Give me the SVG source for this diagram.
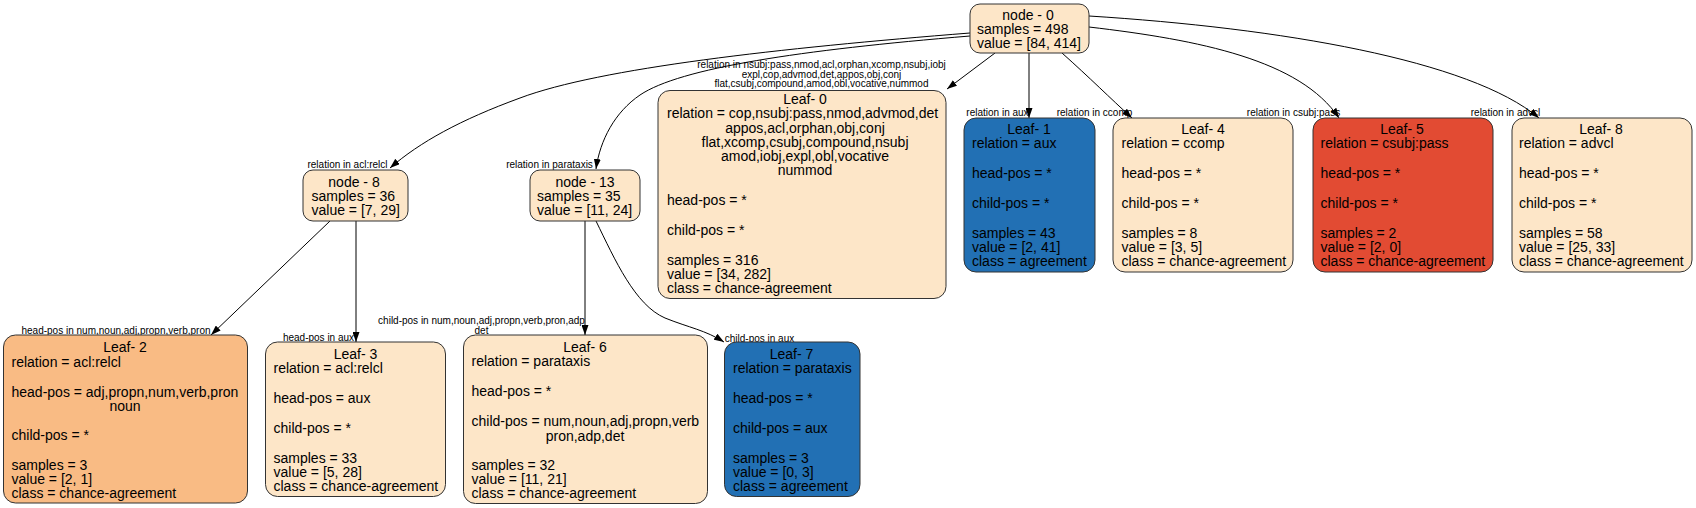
<svg xmlns="http://www.w3.org/2000/svg" width="1696" height="508" viewBox="0 0 1696 508">
<style>
.box{stroke:#333;stroke-width:1}
.beige{fill:#fde6c8}
.orange{fill:#f9bb84}
.red{fill:#e24b33}
.blue{fill:#2270b4}
text{font-family:"Liberation Sans",Arial,sans-serif;fill:#000}
.t{font-size:14px}
.c{text-anchor:middle}
.el{font-size:10px;text-anchor:middle}
.edge{fill:none;stroke:#000;stroke-width:1}
</style>
<defs>
<marker id="arr" viewBox="0 0 10 7" refX="10" refY="3.5" markerWidth="10" markerHeight="7" orient="auto" markerUnits="userSpaceOnUse">
<path d="M0,0 L10,3.5 L0,7 z" fill="#000"/>
</marker>
</defs>
<rect width="1696" height="508" fill="#fff"/>
<g id="connectors">
<path class="edge" marker-end="url(#arr)" d="M970,33 C780,48 600,68 520,98 C460,120 420,142 390,168"/>
<path class="edge" marker-end="url(#arr)" d="M970,36 C800,50 680,68 640,95 C615,112 600,140 596,169"/>
<path class="edge" marker-end="url(#arr)" d="M995,53 L947,89"/>
<path class="edge" marker-end="url(#arr)" d="M1029,53 L1029,118"/>
<path class="edge" marker-end="url(#arr)" d="M1062,53 C1090,78 1110,98 1132,118"/>
<path class="edge" marker-end="url(#arr)" d="M1089,27 C1200,40 1300,60 1339,118"/>
<path class="edge" marker-end="url(#arr)" d="M1089,16 C1280,28 1470,60 1539,118"/>
<path class="edge" marker-end="url(#arr)" d="M330,221 L211,335"/>
<path class="edge" marker-end="url(#arr)" d="M356,221 L356,342"/>
<path class="edge" marker-end="url(#arr)" d="M585,221 L585,335"/>
<path class="edge" marker-end="url(#arr)" d="M596,221 C615,260 635,305 665,318 C690,328 705,330 724,342"/>
<text class="el" x="821.5" y="68">relation in nsubj:pass,nmod,acl,orphan,xcomp,nsubj,iobj</text>
<text class="el" x="821.5" y="77.5">expl,cop,advmod,det,appos,obj,conj</text>
<text class="el" x="821.5" y="87">flat,csubj,compound,amod,obl,vocative,nummod</text>
<text class="el" x="347.5" y="168">relation in acl:relcl</text>
<text class="el" x="549.5" y="168">relation in parataxis</text>
<text class="el" x="997.5" y="115.5">relation in aux</text>
<text class="el" x="1094.5" y="115.5">relation in ccomp</text>
<text class="el" x="1293.5" y="115.5">relation in csubj:pass</text>
<text class="el" x="1505.5" y="115.5">relation in advcl</text>
<text class="el" x="116" y="334">head-pos in num,noun,adj,propn,verb,pron</text>
<text class="el" x="318.5" y="341">head-pos in aux</text>
<text class="el" x="481.5" y="324">child-pos in num,noun,adj,propn,verb,pron,adp</text>
<text class="el" x="481.5" y="334">det</text>
<text class="el" x="759.5" y="341.5">child-pos in aux</text>
</g>
<g id="node-0">
<rect class="box beige" x="970" y="4" width="119" height="49" rx="10"/>
<text class="t c" x="1028" y="20">node - 0</text>
<text class="t" x="977" y="34">samples = 498</text>
<text class="t" x="977" y="48">value = [84, 414]</text>
</g>
<g id="node-8">
<rect class="box beige" x="303" y="170" width="105" height="51" rx="10"/>
<text class="t c" x="354" y="186.5">node - 8</text>
<text class="t" x="311.5" y="201">samples = 36</text>
<text class="t" x="311.5" y="215">value = [7, 29]</text>
</g>
<g id="node-13">
<rect class="box beige" x="530" y="170" width="110" height="51" rx="10"/>
<text class="t c" x="585" y="186.5">node - 13</text>
<text class="t" x="537" y="201">samples = 35</text>
<text class="t" x="537" y="215">value = [11, 24]</text>
</g>
<g id="leaf-0">
<rect class="box beige" x="658" y="90.5" width="288" height="208" rx="12"/>
<text class="t c" x="805" y="103.5">Leaf- 0</text>
<text class="t" x="667" y="118">relation = cop,nsubj:pass,nmod,advmod,det</text>
<text class="t c" x="805" y="132.5">appos,acl,orphan,obj,conj</text>
<text class="t c" x="805" y="146.5">flat,xcomp,csubj,compound,nsubj</text>
<text class="t c" x="805" y="160.5">amod,iobj,expl,obl,vocative</text>
<text class="t c" x="805" y="174.5">nummod</text>
<text class="t" x="667" y="205">head-pos = *</text>
<text class="t" x="667" y="235">child-pos = *</text>
<text class="t" x="667" y="265">samples = 316</text>
<text class="t" x="667" y="279">value = [34, 282]</text>
<text class="t" x="667" y="293">class = chance-agreement</text>
</g>
<g id="leaf-1">
<rect class="box blue" x="964" y="118" width="131" height="154" rx="12"/>
<text class="t c" x="1029" y="134">Leaf- 1</text>
<text class="t" x="972" y="148">relation = aux</text>
<text class="t" x="972" y="178">head-pos = *</text>
<text class="t" x="972" y="208">child-pos = *</text>
<text class="t" x="972" y="238">samples = 43</text>
<text class="t" x="972" y="252">value = [2, 41]</text>
<text class="t" x="972" y="266">class = agreement</text>
</g>
<g id="leaf-4">
<rect class="box beige" x="1113" y="118" width="180" height="154" rx="12"/>
<text class="t c" x="1203" y="134">Leaf- 4</text>
<text class="t" x="1121.5" y="148">relation = ccomp</text>
<text class="t" x="1121.5" y="178">head-pos = *</text>
<text class="t" x="1121.5" y="208">child-pos = *</text>
<text class="t" x="1121.5" y="238">samples = 8</text>
<text class="t" x="1121.5" y="252">value = [3, 5]</text>
<text class="t" x="1121.5" y="266">class = chance-agreement</text>
</g>
<g id="leaf-5">
<rect class="box red" x="1313" y="118" width="180" height="154" rx="12"/>
<text class="t c" x="1402" y="134">Leaf- 5</text>
<text class="t" x="1320.5" y="148">relation = csubj:pass</text>
<text class="t" x="1320.5" y="178">head-pos = *</text>
<text class="t" x="1320.5" y="208">child-pos = *</text>
<text class="t" x="1320.5" y="238">samples = 2</text>
<text class="t" x="1320.5" y="252">value = [2, 0]</text>
<text class="t" x="1320.5" y="266">class = chance-agreement</text>
</g>
<g id="leaf-8">
<rect class="box beige" x="1512" y="118" width="180" height="154" rx="12"/>
<text class="t c" x="1601" y="134">Leaf- 8</text>
<text class="t" x="1519" y="148">relation = advcl</text>
<text class="t" x="1519" y="178">head-pos = *</text>
<text class="t" x="1519" y="208">child-pos = *</text>
<text class="t" x="1519" y="238">samples = 58</text>
<text class="t" x="1519" y="252">value = [25, 33]</text>
<text class="t" x="1519" y="266">class = chance-agreement</text>
</g>
<g id="leaf-2">
<rect class="box orange" x="3.5" y="335" width="244" height="168" rx="12"/>
<text class="t c" x="125" y="352">Leaf- 2</text>
<text class="t" x="11.5" y="366.5">relation = acl:relcl</text>
<text class="t" x="11.5" y="396.5">head-pos = adj,propn,num,verb,pron</text>
<text class="t c" x="125" y="410.5">noun</text>
<text class="t" x="11.5" y="440">child-pos = *</text>
<text class="t" x="11.5" y="470">samples = 3</text>
<text class="t" x="11.5" y="484">value = [2, 1]</text>
<text class="t" x="11.5" y="498">class = chance-agreement</text>
</g>
<g id="leaf-3">
<rect class="box beige" x="265.5" y="342" width="180" height="154.5" rx="12"/>
<text class="t c" x="355.5" y="359">Leaf- 3</text>
<text class="t" x="273.5" y="373">relation = acl:relcl</text>
<text class="t" x="273.5" y="403">head-pos = aux</text>
<text class="t" x="273.5" y="433">child-pos = *</text>
<text class="t" x="273.5" y="462.5">samples = 33</text>
<text class="t" x="273.5" y="476.5">value = [5, 28]</text>
<text class="t" x="273.5" y="490.5">class = chance-agreement</text>
</g>
<g id="leaf-6">
<rect class="box beige" x="463.5" y="335" width="244" height="168.5" rx="12"/>
<text class="t c" x="585" y="352">Leaf- 6</text>
<text class="t" x="471.5" y="366">relation = parataxis</text>
<text class="t" x="471.5" y="396">head-pos = *</text>
<text class="t" x="471.5" y="426">child-pos = num,noun,adj,propn,verb</text>
<text class="t c" x="585" y="440.5">pron,adp,det</text>
<text class="t" x="471.5" y="470">samples = 32</text>
<text class="t" x="471.5" y="484">value = [11, 21]</text>
<text class="t" x="471.5" y="498">class = chance-agreement</text>
</g>
<g id="leaf-7">
<rect class="box blue" x="724.5" y="342" width="135.5" height="154.5" rx="12"/>
<text class="t c" x="791.5" y="359">Leaf- 7</text>
<text class="t" x="733" y="373">relation = parataxis</text>
<text class="t" x="733" y="403">head-pos = *</text>
<text class="t" x="733" y="433">child-pos = aux</text>
<text class="t" x="733" y="462.5">samples = 3</text>
<text class="t" x="733" y="476.5">value = [0, 3]</text>
<text class="t" x="733" y="490.5">class = agreement</text>
</g>
</svg>
